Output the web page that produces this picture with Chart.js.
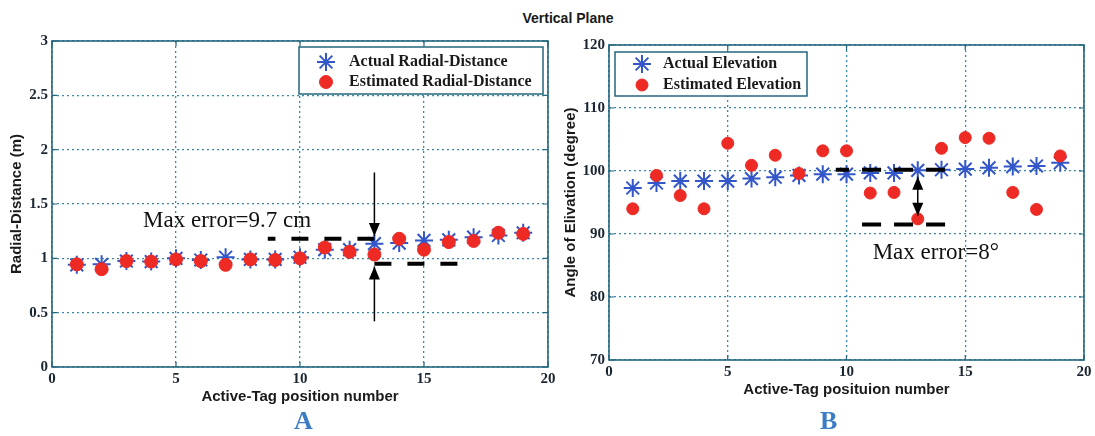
<!DOCTYPE html>
<html>
<head>
<meta charset="utf-8">
<title>Vertical Plane</title>
<script src="https://cdn.jsdelivr.net/npm/chart.js@4.4.0/dist/chart.umd.min.js"></script>
<style>
body { margin: 0; background: #fff; width: 1095px; height: 436px; overflow: hidden; position: relative; }
canvas { position: absolute; top: 0; }
#radialChart { left: 0; }
#elevationChart { left: 560px; }
#title { position: absolute; left: 468px; width: 200px; top: 10px; text-align: center;
  font: bold 14px "Liberation Sans", Arial, sans-serif; color: #1a1a1a; }
.panel { position: absolute; top: 406px; font: bold 26px "Liberation Serif", serif; color: #3a7cc6; }
</style>
</head>
<body>
<div id="title">Vertical Plane</div>
<canvas id="radialChart" width="560" height="436"></canvas>
<canvas id="elevationChart" width="535" height="436"></canvas>
<div class="panel" style="left:294px">A</div>
<div class="panel" style="left:820px">B</div>
<script>
"use strict";

// tag positions along the x axis
var positions = [1, 2, 3, 4, 5, 6, 7, 8, 9, 10, 11, 12, 13, 14, 15, 16, 17, 18, 19];
var xTicks = [0, 5, 10, 15, 20];

// chart A: radial distance (m)
var actualRadial = [0.94, 0.945, 0.975, 0.97, 1.0, 0.985, 1.01, 0.99, 0.99, 1.01, 1.08, 1.08, 1.135, 1.14, 1.165, 1.17, 1.195, 1.21, 1.235];
var estimatedRadial = [0.945, 0.90, 0.975, 0.97, 0.99, 0.975, 0.94, 0.99, 0.985, 1.0, 1.10, 1.06, 1.035, 1.18, 1.08, 1.15, 1.16, 1.235, 1.225];
var radialTicks = [0, 0.5, 1, 1.5, 2, 2.5, 3];

// chart B: angle of elevation (degree)
var actualElevation = [97.3, 98.1, 98.4, 98.4, 98.4, 98.8, 99.0, 99.3, 99.5, 99.5, 99.7, 99.7, 100.1, 100.2, 100.3, 100.5, 100.7, 100.8, 101.3];
var estimatedElevation = [94.0, 99.3, 96.1, 94.0, 104.4, 100.9, 102.5, 99.6, 103.2, 103.2, 96.5, 96.6, 92.4, 103.6, 105.3, 105.2, 96.6, 93.9, 102.4];
var elevationTicks = [70, 80, 90, 100, 110, 120];

var frameColor = '#24677e';
var gridColor = '#3d8aa6';
var starBlue = '#3356c8';
var dotRed = '#ee2a24';
var serif = '"Liberation Serif", "Times New Roman", serif';
var sans = '"Liberation Sans", Arial, sans-serif';

function toPoints(values) {
	return positions.map(function (p, i) { return { x: p, y: values[i] }; });
}

function fixedTicks(list) {
	return function (scale) {
		scale.ticks = list.map(function (v) { return { value: v }; });
	};
}

/*******************
   DRAW HELPERS
*******************/

function marker(ctx, ds, x, y) {
	ctx.save();
	ctx.fillStyle = ds.backgroundColor;
	ctx.strokeStyle = ds.borderColor;
	ctx.lineWidth = ds.borderWidth;
	Chart.helpers.drawPoint(ctx, { pointStyle: ds.pointStyle, radius: ds.pointRadius, borderWidth: ds.borderWidth, rotation: 0 }, x, y);
	ctx.restore();
}

function arrowHead(ctx, x, y, dir, w, len) {
	ctx.beginPath();
	ctx.moveTo(x, y);
	ctx.lineTo(x - w / 2, y - dir * len);
	ctx.lineTo(x + w / 2, y - dir * len);
	ctx.closePath();
	ctx.fill();
}

// frame with inner tick marks, like a matlab axes box
var framePlugin = {
	id: 'frame',
	afterDraw: function (chart) {
		var ctx = chart.ctx, a = chart.chartArea;
		var sx = chart.scales.x, sy = chart.scales.y;
		ctx.save();
		ctx.strokeStyle = frameColor;
		ctx.lineWidth = 1.6;
		ctx.strokeRect(a.left, a.top, a.right - a.left, a.bottom - a.top);
		ctx.lineWidth = 1.2;
		ctx.beginPath();
		sx.ticks.forEach(function (t) {
			var px = sx.getPixelForValue(t.value);
			ctx.moveTo(px, a.top); ctx.lineTo(px, a.top + 5);
			ctx.moveTo(px, a.bottom); ctx.lineTo(px, a.bottom - 5);
		});
		sy.ticks.forEach(function (t) {
			var py = sy.getPixelForValue(t.value);
			ctx.moveTo(a.left, py); ctx.lineTo(a.left + 5, py);
			ctx.moveTo(a.right, py); ctx.lineTo(a.right - 5, py);
		});
		ctx.stroke();
		ctx.restore();
	}
};

// dashed error bounds, arrows and the "Max error" note
var notePlugin = {
	id: 'note',
	afterDraw: function (chart, args, opts) {
		var ctx = chart.ctx;
		var sx = chart.scales.x, sy = chart.scales.y;
		ctx.save();
		ctx.strokeStyle = '#000';
		ctx.fillStyle = '#000';
		ctx.lineWidth = 4;
		ctx.setLineDash(opts.dash);
		opts.bounds.forEach(function (b) {
			ctx.beginPath();
			ctx.moveTo(sx.getPixelForValue(b.from), sy.getPixelForValue(b.y));
			ctx.lineTo(sx.getPixelForValue(b.to), sy.getPixelForValue(b.y));
			ctx.stroke();
		});
		ctx.setLineDash([]);
		ctx.lineWidth = 1.5;
		opts.arrows.forEach(function (ar) {
			var px = sx.getPixelForValue(ar.x);
			var y0 = sy.getPixelForValue(ar.from), y1 = sy.getPixelForValue(ar.to);
			ctx.beginPath();
			ctx.moveTo(px, y0); ctx.lineTo(px, y1);
			ctx.stroke();
			var dir = y1 > y0 ? 1 : -1;
			arrowHead(ctx, px, y1, dir, 11, 13);
			if (ar.both) arrowHead(ctx, px, y0, -dir, 11, 13);
		});
		ctx.font = '23px ' + serif;
		ctx.textAlign = 'left';
		ctx.textBaseline = 'middle';
		ctx.fillStyle = '#111';
		ctx.fillText(opts.text, sx.getPixelForValue(opts.textX), sy.getPixelForValue(opts.textY));
		ctx.restore();
	}
};

// boxed legend inside the plot
var boxLegend = {
	id: 'boxLegend',
	afterDraw: function (chart, args, opts) {
		var ctx = chart.ctx;
		ctx.save();
		ctx.fillStyle = '#fff';
		ctx.fillRect(opts.x, opts.y, opts.w, opts.h);
		ctx.strokeStyle = frameColor;
		ctx.lineWidth = 1.5;
		ctx.strokeRect(opts.x, opts.y, opts.w, opts.h);
		ctx.font = 'bold 16px ' + serif;
		ctx.textAlign = 'left';
		ctx.textBaseline = 'middle';
		chart.data.datasets.forEach(function (ds, i) {
			var cy = opts.y + opts.row0 + i * opts.rowGap;
			marker(ctx, ds, opts.x + opts.markX, cy);
			ctx.fillStyle = '#1a1a1a';
			ctx.fillText(ds.label, opts.x + opts.textX, cy);
		});
		ctx.restore();
	}
};

/*******************
   SHARED OPTIONS
*******************/

function makeOptions(cfg) {
	return {
		responsive: false,
		animation: false,
		devicePixelRatio: 1,
		layout: { padding: { left: 0, top: cfg.top, right: cfg.right, bottom: 0 } },
		plugins: {
			legend: { display: false },
			tooltip: { enabled: false },
			note: cfg.note,
			boxLegend: cfg.legend
		},
		scales: {
			x: {
				type: 'linear', min: 0, max: 20,
				afterBuildTicks: fixedTicks(xTicks),
				afterFit: function (s) { s.height = cfg.xHeight; },
				border: { display: false, dash: [2, 3] },
				grid: { color: gridColor, lineWidth: 1.3, drawTicks: false },
				ticks: { padding: 3, color: '#1b2633', font: { family: serif, weight: 'bold', size: 15 },
					callback: function (v) { return String(v); } },
				title: { display: true, text: cfg.xTitle, color: '#1a1a1a',
					padding: { top: 0, bottom: cfg.xTitlePad },
					font: { family: sans, weight: 'bold', size: 15 } }
			},
			y: {
				type: 'linear', min: cfg.yMin, max: cfg.yMax,
				afterBuildTicks: fixedTicks(cfg.yTicks),
				afterFit: function (s) { s.width = cfg.yWidth; },
				border: { display: false, dash: [2, 3] },
				grid: { color: gridColor, lineWidth: 1.3, drawTicks: false },
				ticks: { padding: 4, color: '#1b2633', font: { family: serif, weight: 'bold', size: 15 },
					callback: function (v) { return String(v); } },
				title: { display: true, text: cfg.yTitle, color: '#1a1a1a',
					padding: { top: cfg.yTitlePad, bottom: 0 },
					font: { family: sans, weight: 'bold', size: 15 } }
			}
		}
	};
}

function starSet(label, values) {
	return { label: label, data: toPoints(values), pointStyle: 'star', pointRadius: 9,
		borderColor: starBlue, backgroundColor: starBlue, borderWidth: 2, order: 2 };
}

function dotSet(label, values, r) {
	return { label: label, data: toPoints(values), pointStyle: 'circle', pointRadius: r,
		borderColor: dotRed, backgroundColor: dotRed, borderWidth: 1, order: 1 };
}

/*******************
	 CHART A
*******************/

var radialChart = new Chart(document.getElementById('radialChart'), {
	type: 'scatter',
	data: { datasets: [
		starSet('Actual Radial-Distance', actualRadial),
		dotSet('Estimated Radial-Distance', estimatedRadial, 6.5)
	] },
	options: makeOptions({
		top: 41, right: 12, xHeight: 69, yWidth: 52,
		yMin: 0, yMax: 3, yTicks: radialTicks,
		xTitle: 'Active-Tag position number', xTitlePad: 30,
		yTitle: 'Radial-Distance (m)', yTitlePad: 8,
		legend: { x: 299, y: 47, w: 244, h: 47, markX: 27, textX: 50, row0: 15, rowGap: 20 },
		note: {
			text: 'Max error=9.7 cm', textX: 3.67, textY: 1.343,
			dash: [17, 16],
			bounds: [{ from: 13.0, to: 8.7, y: 1.18 }, { from: 13.0, to: 16.5, y: 0.95 }],
			arrows: [{ x: 13, from: 1.79, to: 1.205 }, { x: 13, from: 0.42, to: 0.925 }]
		}
	}),
	plugins: [framePlugin, notePlugin, boxLegend]
});

/*******************
	 CHART B
*******************/

var elevationChart = new Chart(document.getElementById('elevationChart'), {
	type: 'scatter',
	data: { datasets: [
		starSet('Actual Elevation', actualElevation),
		dotSet('Estimated Elevation', estimatedElevation, 6)
	] },
	options: makeOptions({
		top: 45, right: 11, xHeight: 76, yWidth: 49,
		yMin: 70, yMax: 120, yTicks: elevationTicks,
		xTitle: 'Active-Tag posituion number', xTitlePad: 37,
		yTitle: 'Angle of Elivation (degree)', yTitlePad: 2,
		legend: { x: 55, y: 52, w: 192, h: 44, markX: 27, textX: 48, row0: 12, rowGap: 21 },
		note: {
			text: 'Max error=8\u00b0', textX: 11.1, textY: 87.0,
			dash: [19, 13],
			bounds: [{ from: 14.15, to: 9.55, y: 100.2 }, { from: 14.15, to: 10.6, y: 91.5 }],
			arrows: [{ x: 13, from: 99.1, to: 92.9, both: true }]
		}
	}),
	plugins: [framePlugin, notePlugin, boxLegend]
});
</script>
</body>
</html>
